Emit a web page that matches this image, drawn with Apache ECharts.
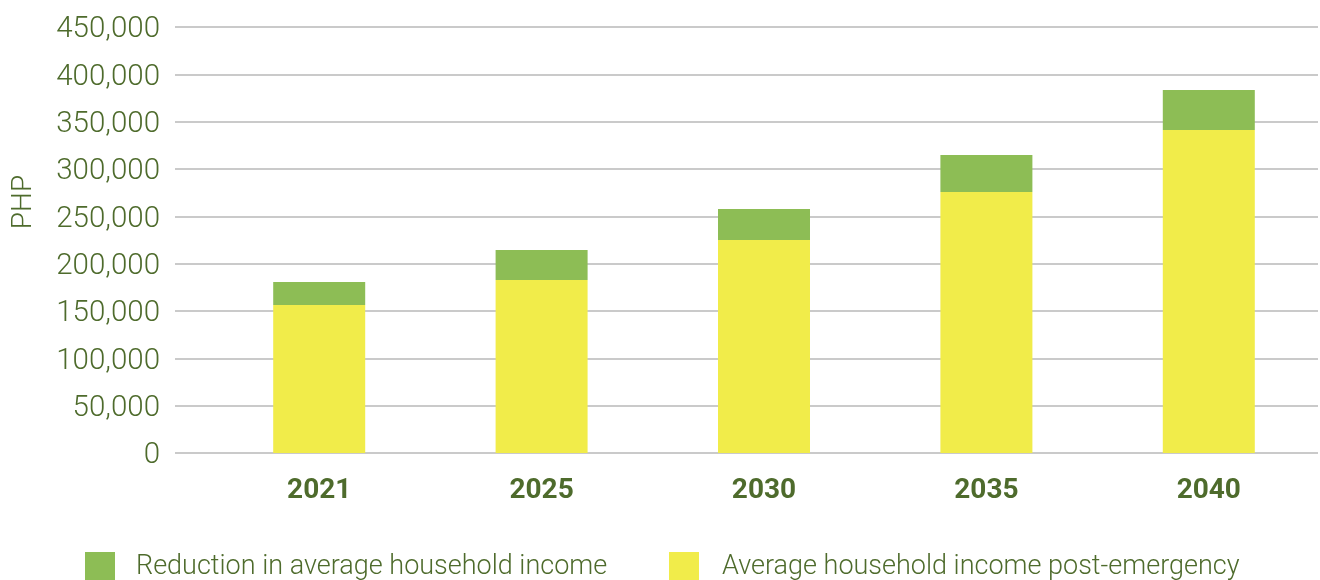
<!DOCTYPE html>
<html>
<head>
<meta charset="utf-8">
<script src="https://cdn.jsdelivr.net/npm/echarts@6/dist/echarts.min.js"></script>
<style>
  html, body { margin: 0; padding: 0; background: #ffffff; }
  #chart { width: 1320px; height: 580px; }
</style>
</head>
<body>
<div id="chart"></div>
<script>
// Average household income (PHP), stacked: post-emergency income plus the reduction
const years = ['2021', '2025', '2030', '2035', '2040'];
const postEmergency = [156300, 182700, 225000, 275700, 341200];
const reduction = [24300, 31700, 32800, 39100, 42300];
const seriesNames = ['Reduction in average household income', 'Average household income post-emergency'];
const yTicks = { min: 0, max: 450000, interval: 50000 };
const axisTitle = 'PHP';

const textColor = '#4e6b2c';
const green = '#8dbd55';
const yellow = '#f1ec4a';
const fontFamily = 'Roboto, "Liberation Sans", sans-serif';

const chart = echarts.init(document.getElementById('chart'), null, { renderer: 'canvas' });

chart.setOption({
  backgroundColor: '#ffffff',
  animation: false,
  textStyle: { fontFamily: fontFamily },
  grid: [
    // gridlines and value labels
    { left: 175, right: 2, top: 27, bottom: 127 },
    // bars and year labels
    { left: 208, right: -1, top: 27, bottom: 127 }
  ],
  xAxis: [
    { type: 'value', gridIndex: 0, min: 0, max: 1, show: false },
    {
      type: 'category',
      gridIndex: 1,
      data: years,
      axisLine: { show: false },
      axisTick: { show: false },
      axisLabel: {
        color: textColor,
        fontSize: 28,
        fontWeight: 'bold',
        margin: 24,
        fontFamily: fontFamily
      }
    }
  ],
  yAxis: [
    {
      type: 'value',
      gridIndex: 0,
      min: yTicks.min,
      max: yTicks.max,
      interval: yTicks.interval,
      axisLine: { show: false },
      axisTick: { show: false },
      axisLabel: {
        color: textColor,
        fontSize: 29.5,
        fontWeight: 300,
        margin: 15,
        verticalAlign: 'top',
        lineHeight: 6,
        fontFamily: fontFamily,
        formatter: v => v.toLocaleString('en-US')
      },
      splitLine: { lineStyle: { color: '#b9b9b9', width: 1.6 } }
    },
    {
      type: 'value',
      gridIndex: 1,
      min: yTicks.min,
      max: yTicks.max,
      interval: yTicks.interval,
      show: false,
      splitLine: { show: false }
    }
  ],
  legend: [
    {
      left: 85,
      top: 552,
      padding: 0,
      itemWidth: 30,
      itemHeight: 30,
      icon: 'rect',
      data: [seriesNames[0]],
      textStyle: { color: textColor, fontSize: 27, fontWeight: 300, padding: [0, 0, 10, 16], fontFamily: fontFamily }
    },
    {
      left: 669,
      top: 552,
      padding: 0,
      itemWidth: 30,
      itemHeight: 30,
      icon: 'rect',
      data: [seriesNames[1]],
      textStyle: { color: textColor, fontSize: 27, fontWeight: 300, padding: [0, 0, 10, 18], fontFamily: fontFamily }
    }
  ],
  graphic: [
    {
      type: 'text',
      x: 24,
      y: 202,
      rotation: Math.PI / 2,
      style: {
        text: axisTitle,
        fill: textColor,
        font: '300 28px ' + fontFamily,
        align: 'center',
        verticalAlign: 'middle'
      }
    }
  ],
  series: [
    {
      name: seriesNames[1],
      type: 'bar',
      xAxisIndex: 1,
      yAxisIndex: 1,
      stack: 'income',
      barWidth: 92,
      itemStyle: { color: yellow },
      data: postEmergency
    },
    {
      name: seriesNames[0],
      type: 'bar',
      xAxisIndex: 1,
      yAxisIndex: 1,
      stack: 'income',
      barWidth: 92,
      itemStyle: { color: green },
      data: reduction
    }
  ]
});
</script>
</body>
</html>
